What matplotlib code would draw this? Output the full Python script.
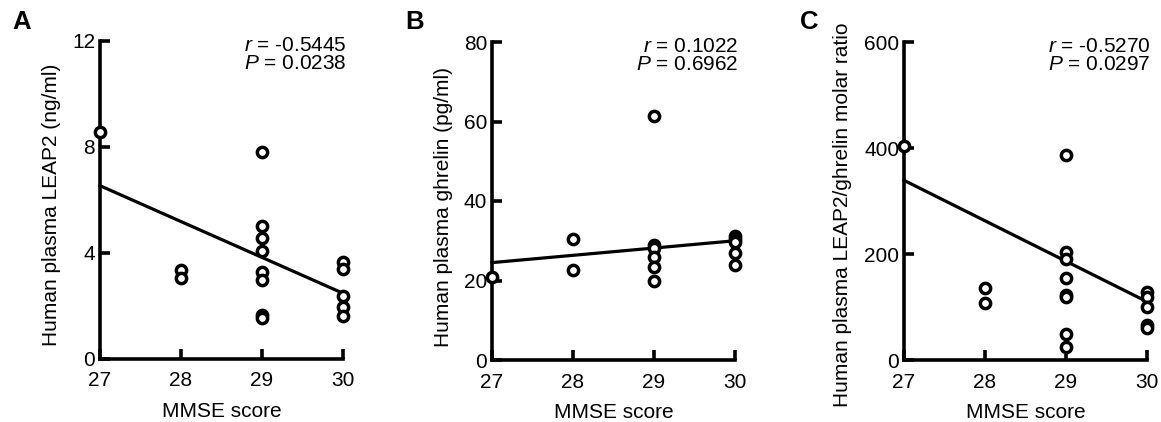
import numpy as np
import matplotlib
matplotlib.use('Agg')
from matplotlib import pyplot as plt

plt.rcParams['font.family'] = ['Liberation Sans', 'DejaVu Sans']
plt.rcParams['mathtext.fontset'] = 'custom'
plt.rcParams['mathtext.rm'] = 'Liberation Sans'
plt.rcParams['mathtext.it'] = 'Liberation Sans:italic'

# MMSE scores
mmse_a = [27, 28, 28, 29, 29, 29, 29, 29, 29, 29, 29, 30, 30, 30, 30, 30]
leap2 = [8.58, 3.36, 3.07, 7.82, 5.03, 4.58, 4.09, 3.27, 3.0, 1.66, 1.54,
         3.65, 3.41, 2.39, 1.97, 1.62]

mmse_b = [27, 28, 28, 29, 29, 29, 29, 29, 29, 30, 30, 30, 30, 30]
ghrelin = [21.0, 30.5, 22.7, 61.3, 29.0, 28.3, 26.0, 23.5, 19.9,
           31.2, 30.4, 29.8, 26.9, 23.9]

mmse_c = [27, 28, 28, 29, 29, 29, 29, 29, 29, 29, 29, 30, 30, 30, 30, 30]
ratio = [404, 135, 107, 386, 204, 190, 155, 122, 118, 50, 25,
         129, 119, 100, 66, 60]

# regression line end points (at MMSE 27 and 30)
fit_a = [6.54, 2.48]
fit_b = [24.5, 30.0]
fit_c = [339, 110]

stats = [('-0.5445', '0.0238'), ('0.1022', '0.6962'), ('-0.5270', '0.0297')]
ylabels = ['Human plasma LEAP2 (ng/ml)', 'Human plasma ghrelin (pg/ml)',
           'Human plasma LEAP2/ghrelin molar ratio']
yticks = [[0, 4, 8, 12], [0, 20, 40, 60, 80], [0, 200, 400, 600]]
letters = ['A', 'B', 'C']
xticks = [27, 28, 29, 30]

fig = plt.figure(figsize=(11.61, 4.22), dpi=100)
W, H = 1161, 422
boxes = [(100, 41, 243, 318), (492, 42, 243, 318), (904, 42, 243, 318)]
data = [(mmse_a, leap2, fit_a), (mmse_b, ghrelin, fit_b), (mmse_c, ratio, fit_c)]
letter_x = [12, 405, 800]
label_y = [0.484, 0.481, 0.456]
label_pad = [8, 8, 9]

for i in range(3):
    l, t, w, h = boxes[i]
    ax = fig.add_axes([l / W, 1 - (t + h) / H, w / W, h / H])
    x, y, fit = data[i]
    ax.plot([27, 30], fit, color='black', lw=2.3, zorder=2, clip_on=False)
    ax.plot(x, y, 'o', mfc='white', mec='black', ms=7.4, mew=2.5,
            clip_on=False, zorder=3)
    ax.set_xlim(27, 30)
    ax.set_ylim(yticks[i][0], yticks[i][-1])
    ax.set_xticks(xticks)
    ax.set_yticks(yticks[i])
    for s in ['top', 'right']:
        ax.spines[s].set_visible(False)
    for s in ['left', 'bottom']:
        ax.spines[s].set_linewidth(2.6)
    ax.tick_params(direction='in', length=7.5, width=2.6, labelsize=15, pad=3.5)
    ax.tick_params(axis='x', pad=9)
    ax.set_xlabel('MMSE score', fontsize=15, labelpad=8)
    ax.set_ylabel(ylabels[i], fontsize=15, labelpad=label_pad[i], y=label_y[i])
    r, p = stats[i]
    ax.text(1.016, 1.015, '$r$ = ' + r + '\n$P$ = ' + p, transform=ax.transAxes,
            ha='right', va='top', fontsize=15, linespacing=0.95)
    fig.text(letter_x[i] / W, 1 - 10 / H, letters[i], fontsize=18.5,
             fontweight='bold', va='top', ha='left')

plt.savefig('out.png', dpi=100)
